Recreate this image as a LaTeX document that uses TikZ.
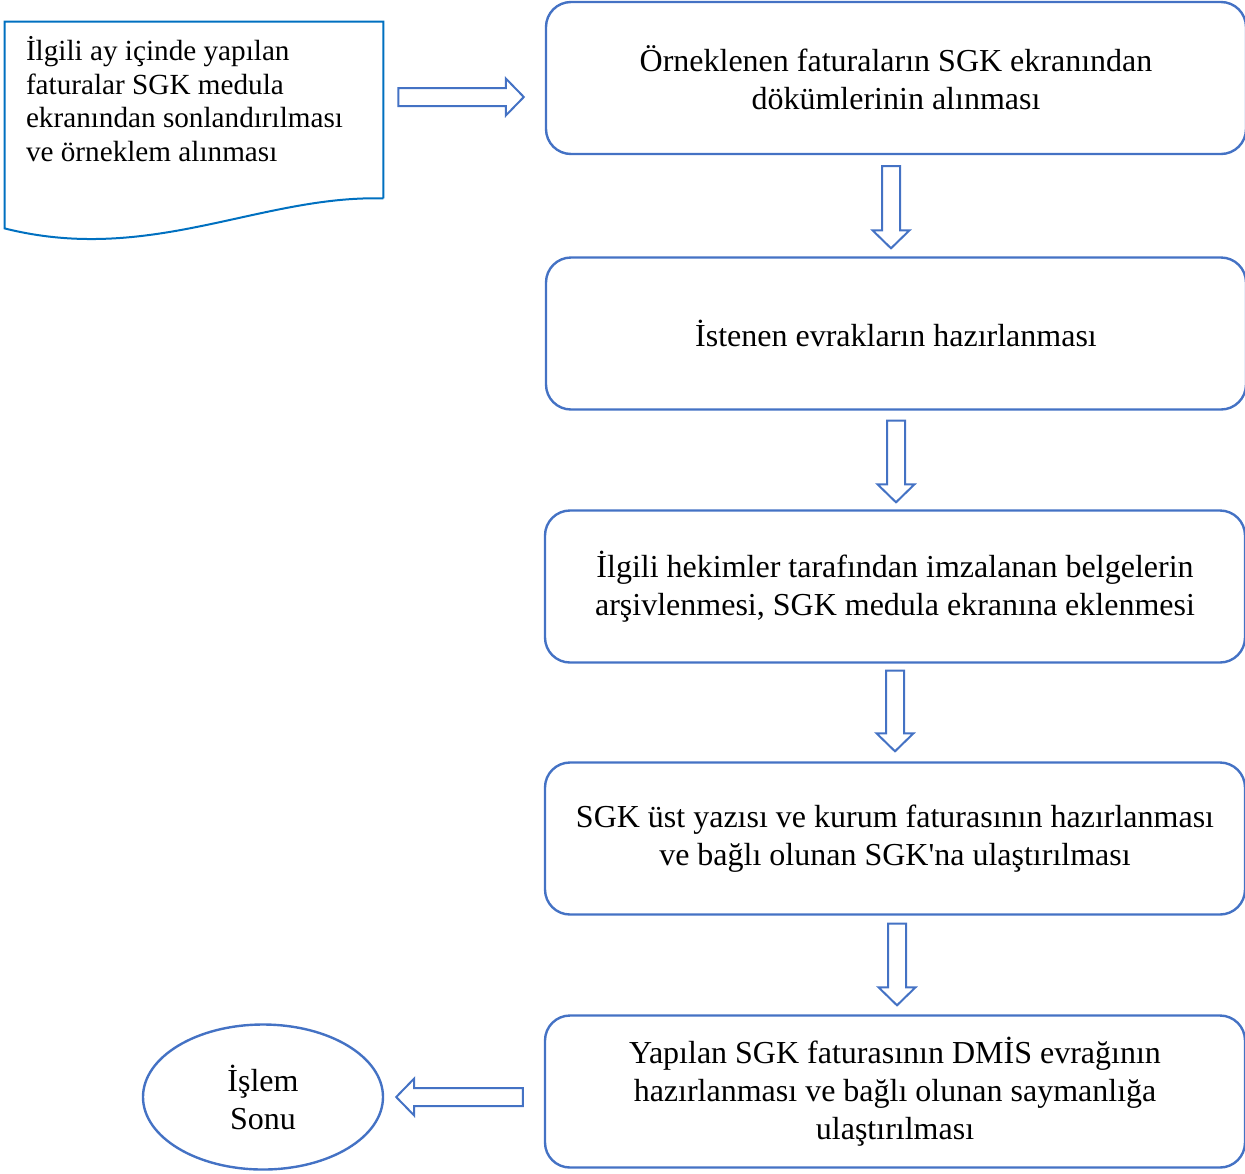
\documentclass[tikz,border=0pt]{standalone}
\usepackage{fontspec}
\setmainfont{Liberation Serif}
\usetikzlibrary{calc,shapes.geometric}

\definecolor{boxblue}{RGB}{68,114,196}
\definecolor{docblue}{RGB}{0,112,192}

\begin{document}
\begin{tikzpicture}[
    x=0.5pt, y=-0.5pt,
    box/.style={rectangle, rounded corners=12.5pt, draw=boxblue, line width=1.2pt, minimum width=350pt, minimum height=76pt, align=center, font=\fontsize{16}{19}\selectfont},
    endnode/.style={ellipse, draw=boxblue, line width=1.2pt, minimum width=120pt, minimum height=72.5pt, inner sep=0pt, align=center, font=\fontsize{16}{19}\selectfont},
    docframe/.style={rectangle, minimum width=189pt, minimum height=88pt, inner sep=0pt},
    doctext/.style={anchor=west, align=left, inner sep=0pt, font=\fontsize{14.6}{16.8}\selectfont},
    docline/.style={draw=docblue, line width=1pt},
    blockarrow/.style={draw=boxblue, line width=1pt, fill=white, to path={
        -- ($(\tikztostart)!4.5pt!90:(\tikztotarget)$)
        -- ($(\tikztotarget)!9pt!(\tikztostart)!4.5pt!-90:(\tikztostart)$)
        -- ($(\tikztotarget)!9pt!(\tikztostart)!9.25pt!-90:(\tikztostart)$)
        -- (\tikztotarget)
        -- ($(\tikztotarget)!9pt!(\tikztostart)!9.25pt!90:(\tikztostart)$)
        -- ($(\tikztotarget)!9pt!(\tikztostart)!4.5pt!90:(\tikztostart)$)
        -- ($(\tikztostart)!4.5pt!-90:(\tikztotarget)$)
        -- cycle}}
]
    \useasboundingbox (0,0) rectangle (1245,1173);

    % Belge
    \node[docframe] (doc) at (194,110) {};
    \draw[docline] (doc.south east) -- (doc.north east) -- (doc.north west)
        -- ([yshift=-15pt]doc.south west) .. controls (150,265) and (260,195) .. (doc.south east);
    \node[doctext] (doctxt) at ([xshift=10.5pt,yshift=5.5pt]doc.west) {İlgili ay içinde yapılan\\faturalar SGK medula\\ekranından sonlandırılması\\ve örneklem alınması};

    % Adimlar
    \node[box] (box1) at (896,78) {Örneklenen faturaların SGK ekranından\\dökümlerinin alınması};
    \node[box] (box2) at (896,333.5) {İstenen evrakların hazırlanması};
    \node[box] (box3) at (895,586.5) {İlgili hekimler tarafından imzalanan belgelerin\\arşivlenmesi, SGK medula ekranına eklenmesi};
    \node[box] (box4) at (895,838.5) {SGK üst yazısı ve kurum faturasının hazırlanması\\ve bağlı olunan SGK\textquotesingle na ulaştırılması};
    \node[box] (box5) at (895,1091.5) {Yapılan SGK faturasının DMİS evrağının\\hazırlanması ve bağlı olunan saymanlığa\\ulaştırılması};

    % Son
    \node[endnode] (son) at (263,1097) {İşlem\\Sonu};

    % Oklar
    \draw[blockarrow] ([xshift=7.5pt,yshift=6.5pt]doc.east) to ([xshift=-10.5pt,yshift=-9.5pt]box1.west);
    \draw[blockarrow] ([xshift=-2.5pt,yshift=-5.5pt]box1.south) to ([xshift=-2.5pt,yshift=4pt]box2.north);
    \draw[blockarrow] ([yshift=-5pt]box2.south) to ([xshift=0.5pt,yshift=3.5pt]box3.north);
    \draw[blockarrow] ([yshift=-3.5pt]box3.south) to ([yshift=5pt]box4.north);
    \draw[blockarrow] ([xshift=1pt,yshift=-4pt]box4.south) to ([xshift=1pt,yshift=4.5pt]box5.north);
    \draw[blockarrow] ([xshift=-10.5pt,yshift=-2.75pt]box5.west) to ([xshift=6pt]son.east);
\end{tikzpicture}
\end{document}
